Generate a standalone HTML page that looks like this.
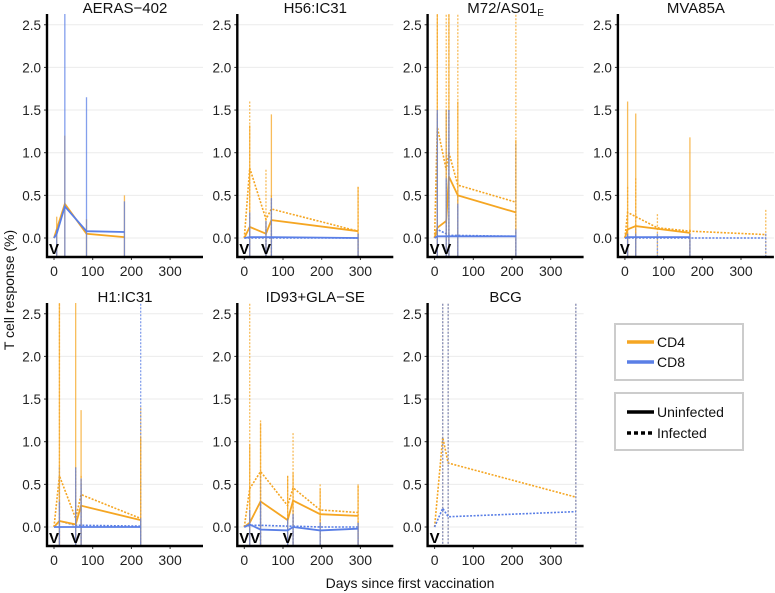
<!DOCTYPE html>
<html><head><meta charset="utf-8">
<style>
html,body{margin:0;padding:0;background:#fff;}
svg{display:block;font-family:"Liberation Sans",Arial,sans-serif;}
</style></head>
<body>
<svg id="chart" width="775" height="593" viewBox="0 0 775 593" xmlns="http://www.w3.org/2000/svg"></svg>
<script>
// ---- data ----
const yTicks = [0, 0.5, 1.0, 1.5, 2.0, 2.5];
const yTickLabels = ["0.0", "0.5", "1.0", "1.5", "2.0", "2.5"];
const xTicks = [0, 100, 200, 300];
const xTickLabels = ["0", "100", "200", "300"];
const panelNames = ["AERAS\u2212402", "H56:IC31", "M72/AS01", "MVA85A", "H1:IC31", "ID93+GLA\u2212SE", "BCG"];

const aerasVacc = [0];
const aerasDays = [0, 7, 28, 84, 182];
const aerasCD4U = [0, 0.1, 0.4, 0.05, 0.01];
const aerasCD4UHi = [0, 0.25, 1.2, 0.22, 0.5];
const aerasCD8U = [0, 0.05, 0.37, 0.08, 0.07];
const aerasCD8UHi = [0, 0.1, 2.7, 1.65, 0.43];

const h56Vacc = [0, 56];
const h56Days = [0, 14, 56, 70, 294];
const h56CD4U = [0, 0.13, 0.05, 0.21, 0.08];
const h56CD4UHi = [0, 1.32, 0.2, 1.45, 0.6];
const h56CD4I = [0, 0.82, 0.22, 0.34, 0.08];
const h56CD4IHi = [0, 1.6, 0.8, 0.5, 0.6];
const h56CD8U = [0, 0.01, 0.01, 0.01, 0];
const h56CD8UHi = [0, 0.3, 0.2, 0.47, 0.05];
const h56CD8I = [0, 0, 0, 0, 0];
const h56CD8IHi = [0, 0.1, 0.1, 0.1, 0.05];

const m72Vacc = [0, 30];
const m72Days = [0, 7, 30, 37, 60, 210];
const m72CD4U = [0, 0.12, 0.2, 0.72, 0.5, 0.3];
const m72CD4UHi = [0, 2.7, 1.5, 2.7, 1.6, 1.15];
const m72CD4I = [0, 1.3, 0.8, 1.0, 0.62, 0.42];
const m72CD4IHi = [0, 2.7, 2.7, 2.7, 2.7, 2.7];
const m72CD8U = [0, 0.02, 0.02, 0.02, 0.02, 0.02];
const m72CD8UHi = [0, 1.5, 0.7, 1.5, 0.4, 0.1];
const m72CD8I = [0, 0.1, 0.05, 0.03, 0.03, 0.02];
const m72CD8IHi = [0, 1.45, 1.5, 1.5, 0.5, 1.1];

const mvaVacc = [0];
const mvaDaysU = [0, 7, 28, 168];
const mvaCD4U = [0, 0.1, 0.14, 0.06];
const mvaCD4UHi = [0, 1.6, 1.46, 1.18];
const mvaCD8U = [0, 0.01, 0.01, 0.01];
const mvaCD8UHi = [0, 0.05, 0.05, 0.05];
const mvaDaysI = [0, 7, 28, 84, 168, 364];
const mvaCD4I = [0, 0.3, 0.25, 0.12, 0.08, 0.04];
const mvaCD4IHi = [0, 0.6, 0.7, 0.28, 0.1, 0.33];
const mvaCD8I = [0, 0, 0, 0, 0, 0];
const mvaCD8IHi = [0, 0.05, 0.15, 0.05, 0.05, 0.05];

const h1Vacc = [0, 56];
const h1Days = [0, 14, 56, 70, 224];
const h1CD4U = [0, 0.07, 0.03, 0.25, 0.08];
const h1CD4UHi = [0, 2.7, 2.7, 1.37, 1.05];
const h1CD4I = [0, 0.6, 0.1, 0.38, 0.1];
const h1CD4IHi = [0, 2.7, 0.7, 0.6, 1.4];
const h1CD8U = [0, 0, 0, 0, 0];
const h1CD8UHi = [0, 0.3, 0.7, 0.57, 0.1];
const h1CD8I = [0, 0.07, 0.02, 0.02, 0.01];
const h1CD8IHi = [0, 0.7, 0.3, 0.5, 2.7];

const id93Vacc = [0, 28, 112];
const id93Days = [0, 14, 42, 112, 126, 196, 294];
const id93CD4U = [0, 0.05, 0.3, 0.08, 0.31, 0.15, 0.13];
const id93CD4UHi = [0, 0.97, 1.22, 0.6, 0.64, 0.45, 0.5];
const id93CD4I = [0, 0.45, 0.65, 0.25, 0.46, 0.2, 0.17];
const id93CD4IHi = [0, 2.7, 1.25, 0.6, 1.1, 0.5, 0.48];
const id93CD8U = [0, 0.03, -0.03, -0.04, 0, -0.04, -0.02];
const id93CD8UHi = [0, 0.2, 0.3, 0.1, 0.15, 0.05, 0.05];
const id93CD8I = [0, 0.02, 0.02, 0.01, 0.01, 0, 0];
const id93CD8IHi = [0, 0.1, 0.6, 0.1, 0.2, 0.1, 0.05];

const bcgVacc = [0];
const bcgDays = [0, 21, 35, 365];
const bcgCD4I = [0, 1.05, 0.75, 0.35];
const bcgCD4IHi = [0, 2.7, 2.7, 2.7];
const bcgCD8I = [0, 0.22, 0.12, 0.18];
const bcgCD8IHi = [0, 2.7, 2.7, 2.7];

// ---- layout ----
const ORANGE = "#F5A623", BLUE = "#5A7FE6";
const panels = [
  {name: panelNames[0], slug: "aeras-402", col: 0, row: 0, vacc: aerasVacc, series: [
    {d: aerasDays, v: aerasCD4U, hi: aerasCD4UHi, c: ORANGE, dot: false, id: "cd4-uninfected"},
    {d: aerasDays, v: aerasCD8U, hi: aerasCD8UHi, c: BLUE, dot: false, id: "cd8-uninfected"}]},
  {name: panelNames[1], slug: "h56-ic31", col: 1, row: 0, vacc: h56Vacc, series: [
    {d: h56Days, v: h56CD4I, hi: h56CD4IHi, c: ORANGE, dot: true, id: "cd4-infected"},
    {d: h56Days, v: h56CD8I, hi: h56CD8IHi, c: BLUE, dot: true, id: "cd8-infected"},
    {d: h56Days, v: h56CD4U, hi: h56CD4UHi, c: ORANGE, dot: false, id: "cd4-uninfected"},
    {d: h56Days, v: h56CD8U, hi: h56CD8UHi, c: BLUE, dot: false, id: "cd8-uninfected"}]},
  {name: panelNames[2], sub: "E", slug: "m72-as01e", col: 2, row: 0, vacc: m72Vacc, series: [
    {d: m72Days, v: m72CD4I, hi: m72CD4IHi, c: ORANGE, dot: true, id: "cd4-infected"},
    {d: m72Days, v: m72CD8I, hi: m72CD8IHi, c: BLUE, dot: true, id: "cd8-infected"},
    {d: m72Days, v: m72CD4U, hi: m72CD4UHi, c: ORANGE, dot: false, id: "cd4-uninfected"},
    {d: m72Days, v: m72CD8U, hi: m72CD8UHi, c: BLUE, dot: false, id: "cd8-uninfected"}]},
  {name: panelNames[3], slug: "mva85a", col: 3, row: 0, vacc: mvaVacc, series: [
    {d: mvaDaysI, v: mvaCD4I, hi: mvaCD4IHi, c: ORANGE, dot: true, id: "cd4-infected"},
    {d: mvaDaysI, v: mvaCD8I, hi: mvaCD8IHi, c: BLUE, dot: true, id: "cd8-infected"},
    {d: mvaDaysU, v: mvaCD4U, hi: mvaCD4UHi, c: ORANGE, dot: false, id: "cd4-uninfected"},
    {d: mvaDaysU, v: mvaCD8U, hi: mvaCD8UHi, c: BLUE, dot: false, id: "cd8-uninfected"}]},
  {name: panelNames[4], slug: "h1-ic31", col: 0, row: 1, vacc: h1Vacc, series: [
    {d: h1Days, v: h1CD4I, hi: h1CD4IHi, c: ORANGE, dot: true, id: "cd4-infected"},
    {d: h1Days, v: h1CD8I, hi: h1CD8IHi, c: BLUE, dot: true, id: "cd8-infected"},
    {d: h1Days, v: h1CD4U, hi: h1CD4UHi, c: ORANGE, dot: false, id: "cd4-uninfected"},
    {d: h1Days, v: h1CD8U, hi: h1CD8UHi, c: BLUE, dot: false, id: "cd8-uninfected"}]},
  {name: panelNames[5], slug: "id93-gla-se", col: 1, row: 1, vacc: id93Vacc, series: [
    {d: id93Days, v: id93CD4I, hi: id93CD4IHi, c: ORANGE, dot: true, id: "cd4-infected"},
    {d: id93Days, v: id93CD8I, hi: id93CD8IHi, c: BLUE, dot: true, id: "cd8-infected"},
    {d: id93Days, v: id93CD4U, hi: id93CD4UHi, c: ORANGE, dot: false, id: "cd4-uninfected"},
    {d: id93Days, v: id93CD8U, hi: id93CD8UHi, c: BLUE, dot: false, id: "cd8-uninfected"}]},
  {name: panelNames[6], slug: "bcg", col: 2, row: 1, vacc: bcgVacc, series: [
    {d: bcgDays, v: bcgCD4I, hi: bcgCD4IHi, c: ORANGE, dot: true, id: "cd4-infected"},
    {d: bcgDays, v: bcgCD8I, hi: bcgCD8IHi, c: BLUE, dot: true, id: "cd8-infected"}]}
];

const NS = "http://www.w3.org/2000/svg";
const svg = document.getElementById("chart");
function mk(tag, attrs, parent) {
  const e = document.createElementNS(NS, tag);
  for (const k in attrs) e.setAttribute(k, attrs[k]);
  (parent || svg).appendChild(e);
  return e;
}
const PW = 156, PH = 243, YMIN = -0.22;
function panelBox(p) {
  const left = 47 + p.col * 190.3;
  const bottom = 257 + p.row * 289;
  return {left, bottom, top: bottom - PH};
}
function xScale(p, d) { return panelBox(p).left + 7 + d * 0.387; }
function yScale(p, v) { return panelBox(p).bottom - 19 - v * 85.3; }

panels.forEach((p, pi) => {
  const b = panelBox(p);
  const g = mk("g", {});
  
  
  const cid = "clip" + pi;
  const cp = mk("clipPath", {id: cid}, g);
  mk("rect", {x: b.left, y: b.top, width: PW, height: PH}, cp);
  yTicks.forEach((t, i) => {
    const gl = mk("line", {x1: b.left, x2: b.left + PW, y1: yScale(p, t), y2: yScale(p, t), stroke: "#ebebeb", "stroke-width": 1}, g);
    
    
    const tl = mk("text", {x: b.left - 6, y: yScale(p, t) + 5, "text-anchor": "end", "font-size": 13.5, fill: "#222"}, g);
    tl.textContent = yTickLabels[i];
    
    
    const tk = mk("line", {x1: b.left - 3, x2: b.left, y1: yScale(p, t), y2: yScale(p, t), stroke: "#333", "stroke-width": 1}, g);
    
    
  });
  xTicks.forEach((t, i) => {
    const xl = mk("text", {x: xScale(p, t), y: b.bottom + 19, "text-anchor": "middle", "font-size": 14, fill: "#222"}, g);
    xl.textContent = xTickLabels[i];
    
    
    const tk = mk("line", {x1: xScale(p, t), x2: xScale(p, t), y1: b.bottom, y2: b.bottom + 3, stroke: "#333", "stroke-width": 1}, g);
    
    
  });
  const sg = mk("g", {"clip-path": "url(#" + cid + ")"}, g);
  p.series.forEach(s => {
    const dash = s.dot ? "2,1.5" : null;
    s.d.forEach((d, i) => {
      if (i === 0) return;
      const eb = mk("line", {x1: xScale(p, d), x2: xScale(p, d), y1: yScale(p, s.hi[i]), y2: yScale(p, YMIN - 0.05), stroke: s.c, "stroke-width": 1.3, "stroke-opacity": 0.75}, sg);
      if (dash) eb.setAttribute("stroke-dasharray", dash);
      
      
    });
    const pts = s.d.map((d, i) => xScale(p, d) + "," + yScale(p, s.v[i])).join(" ");
    const pl = mk("polyline", {points: pts, fill: "none", stroke: s.c, "stroke-width": s.dot ? 1.6 : 1.8}, sg);
    if (dash) pl.setAttribute("stroke-dasharray", dash);
    
    
  });
  p.vacc.forEach(d => {
    const v = mk("text", {x: xScale(p, d), y: b.bottom - 3, "text-anchor": "middle", "font-size": 15, "font-weight": "bold", fill: "#000"}, g);
    v.textContent = "V";
    
    
  });
  const ax = mk("path", {d: `M${b.left},${b.top} V${b.bottom} H${b.left + PW}`, fill: "none", stroke: "#000", "stroke-width": 2.4}, g);
  
  
  const t = mk("text", {x: b.left + PW / 2, y: b.top - 1, "text-anchor": "middle", "font-size": 15, fill: "#111"}, g);
  t.textContent = p.name;
  if (p.sub) {
    const ts = mk("tspan", {"font-size": 10, dy: 3}, t);
    ts.textContent = p.sub;
  }
  
  
});

function mk2(tag, attrs) {
  const e = document.createElementNS(NS, tag);
  for (const k in attrs) e.setAttribute(k, attrs[k]);
  svg.appendChild(e);
  return e;
}
const yt = mk2("text", {x: 0, y: 0, transform: "translate(14,290) rotate(-90)", "text-anchor": "middle", "font-size": 14, fill: "#111"});
yt.textContent = "T cell response (%)";


const xt = mk2("text", {x: 410, y: 588, "text-anchor": "middle", "font-size": 14, fill: "#111"});
xt.textContent = "Days since first vaccination";



const lb1 = mk2("rect", {x: 615, y: 324, width: 128, height: 56, fill: "#fff", stroke: "#ccc", "stroke-width": 2});


const lb2 = mk2("rect", {x: 615, y: 393, width: 128, height: 57, fill: "#fff", stroke: "#ccc", "stroke-width": 2});


const entries = [
  {y: 342, label: "CD4", c: "#F5A623", dash: null, name: "legend-entry-cd4"},
  {y: 362, label: "CD8", c: "#5A7FE6", dash: null, name: "legend-entry-cd8"},
  {y: 412, label: "Uninfected", c: "#000", dash: null, name: "legend-entry-uninfected"},
  {y: 433, label: "Infected", c: "#000", dash: "4,3", name: "legend-entry-infected"}
];
entries.forEach(e => {
  const l = mk2("line", {x1: 627, x2: 654, y1: e.y, y2: e.y, stroke: e.c, "stroke-width": 3.5});
  if (e.dash) l.setAttribute("stroke-dasharray", e.dash);
  
  
  const t = mk2("text", {x: 657, y: e.y + 5, "font-size": 14, fill: "#111"});
  t.textContent = e.label;
  
  
});
</script>
</body></html>
